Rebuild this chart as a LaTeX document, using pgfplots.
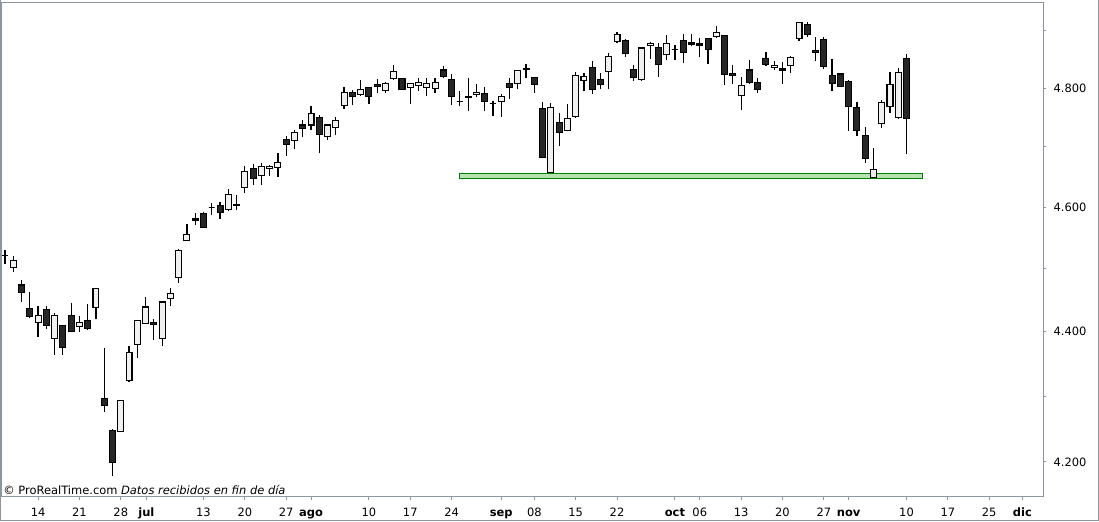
\documentclass[border=0pt]{standalone}
\usepackage{fontspec}
\setmainfont{DejaVu Sans}
\usepackage{pgfplots}
\usepackage{pgfplotstable}
\pgfplotsset{compat=1.18}

\definecolor{framegray}{RGB}{140,150,160}
\definecolor{zonefill}{RGB}{184,226,178}
\definecolor{zoneline}{RGB}{0,130,0}

\pgfplotsset{
  wick/.style={black, line width=0.9pt, mark=none, forget plot},
  candleup/.style={draw=black, fill=white!94!black, line width=0.8pt, mark=none, forget plot},
  candledown/.style={draw=black, fill=black!85, line width=0.8pt, mark=none, forget plot},
}

% daily candles: index, open, high, low, close
\pgfplotstableread{
i o h l c
0 4522 4531 4508 4522
1 4502 4521 4495 4513
2 4474 4482 4447 4462
3 4437 4463 4421 4424
4 4414 4441 4392 4426
5 4435 4441 4405 4410
6 4389 4430 4363 4426
7 4410 4411 4364 4375
8 4426 4446 4399 4400
9 4408 4425 4399 4415
10 4417 4444 4402 4405
11 4438 4469 4420 4469
12 4296 4375 4275 4285
13 4248 4250 4179 4200
14 4246 4294 4245 4293
15 4324 4377 4322 4367
16 4380 4418 4359 4418
17 4413 4455 4412 4439
18 4415 4420 4387 4411
19 4389 4449 4377 4447
20 4452 4469 4440 4461
21 4486 4532 4478 4530
22 4546 4573 4546 4556
23 4582 4590 4571 4579
24 4590 4592 4566 4567
25 4599 4607 4587 4599
26 4603 4609 4581 4592
27 4597 4630 4593 4621
28 4605 4620 4596 4603
29 4633 4668 4624 4659
30 4664 4672 4636 4648
31 4653 4673 4636 4668
32 4664 4670 4652 4668
33 4666 4690 4650 4674
34 4713 4719 4685 4704
35 4711 4729 4697 4724
36 4737 4746 4717 4731
37 4737 4769 4729 4756
38 4750 4754 4690 4721
39 4718 4737 4712 4737
40 4733 4751 4720 4745
41 4770 4801 4765 4793
42 4793 4797 4771 4785
43 4789 4814 4787 4798
44 4801 4802 4773 4785
45 4806 4815 4792 4802
46 4795 4811 4792 4808
47 4816 4840 4814 4829
48 4817 4818 4797 4798
49 4801 4808 4773 4807
50 4804 4817 4795 4810
51 4801 4818 4787 4808
52 4799 4818 4792 4810
53 4831 4838 4818 4820
54 4815 4824 4771 4785
55 4777 4795 4770 4777
56 4786 4817 4760 4783
57 4789 4807 4785 4793
58 4790 4801 4761 4777
59 4774 4778 4752 4774
60 4777 4790 4751 4786
61 4808 4818 4782 4801
62 4807 4831 4799 4830
63 4834 4841 4817 4832
64 4818 4819 4792 4806
65 4765 4776 4682 4683
66 4657 4774 4656 4767
67 4742 4758 4702 4724
68 4728 4772 4727 4748
69 4751 4827 4749 4822
70 4813 4825 4795 4820
71 4836 4846 4789 4798
72 4815 4825 4799 4806
73 4828 4860 4799 4855
74 4881 4898 4878 4893
75 4882 4884 4854 4860
76 4832 4839 4812 4818
77 4814 4870 4812 4869
78 4874 4879 4850 4877
79 4870 4877 4819 4841
80 4858 4892 4849 4877
81 4867 4874 4849 4867
82 4882 4893 4844 4862
83 4876 4893 4872 4879
84 4876 4886 4853 4873
85 4886 4887 4842 4866
86 4889 4907 4887 4896
87 4891 4892 4805 4823
88 4825 4839 4807 4822
89 4787 4819 4762 4805
90 4831 4848 4807 4809
91 4810 4817 4792 4797
92 4851 4862 4838 4840
93 4835 4846 4831 4839
94 4834 4845 4807 4831
95 4838 4856 4825 4853
96 4885 4915 4882 4913
97 4910 4915 4888 4892
98 4865 4888 4847 4862
99 4884 4888 4833 4837
100 4822 4850 4795 4807
101 4824 4825 4802 4802
102 4811 4813 4727 4769
103 4767 4776 4719 4727
104 4720 4733 4674 4681
105 4649 4699 4648 4663
106 4740 4780 4732 4776
107 4769 4827 4758 4806
108 4749 4834 4748 4827
109 4851 4858 4688 4748
}\candles

\begin{document}
\begin{tikzpicture}
\begin{axis}[
  scale only axis, width=780.75pt, height=371pt,
  at={(0,0)}, anchor=south west,
  xmin=-0.36, xmax=125.5,
  % logarithmic price scale
  y coord trafo/.code={\pgfmathparse{ln(#1)}},
  y coord inv trafo/.code={\pgfmathparse{exp(#1)}},
  ymin=4148.3, ymax=4949.7,
  axis line style={framegray, line width=0.75pt},
  tick align=outside,
  major tick length=2.25pt, minor tick length=2.25pt,
  tick style={framegray, line width=0.75pt},
  xtick pos=left, xticklabel pos=left,
  ytick pos=right, yticklabel pos=right,
  xtick={4,9,14,17.1,24,29,34,37,44,49,54,60,64,69,74,81,84,89,94,99,102,109,114,119,123},
  xticklabels={14,21,28,\textbf{jul},13,20,27,\textbf{ago},10,17,24,\textbf{sep},08,15,22,\textbf{oct},06,13,20,27,\textbf{nov},10,17,25,\textbf{dic}},
  ytick={4200,4400,4600,4800},
  yticklabels={4.200,4.400,4.600,4.800},
  minor ytick={4300,4500,4700,4900},
  ticklabel style={font=\fontsize{8.6}{10}\selectfont, text=black},
  xticklabel style={anchor=base, inner sep=0pt, yshift=-12.5pt},
  yticklabel style={anchor=west, inner sep=0pt, xshift=5.5pt},
]
% support zone
\addplot[draw=zoneline, fill=zonefill, line width=0.75pt, forget plot]
  coordinates {(55,4647) (110.9,4647) (110.9,4656) (55,4656)} --cycle;

\pgfplotsinvokeforeach{0,...,109}{%
  \pgfplotstablegetelem{#1}{o}\of\candles\let\Vo\pgfplotsretval
  \pgfplotstablegetelem{#1}{h}\of\candles\let\Vh\pgfplotsretval
  \pgfplotstablegetelem{#1}{l}\of\candles\let\Vl\pgfplotsretval
  \pgfplotstablegetelem{#1}{c}\of\candles\let\Vc\pgfplotsretval
  \pgfmathsetmacro\Xl{#1-0.36}%
  \pgfmathsetmacro\Xr{#1+0.36}%
  \ifdim\Vc pt<\Vo pt \def\Bstyle{candledown}\else\def\Bstyle{candleup}\fi
  \edef\Cmd{%
    \noexpand\addplot[wick] coordinates {(#1,\Vl) (#1,\Vh)};
    \noexpand\addplot[\Bstyle] coordinates {(\Xl,\Vo) (\Xr,\Vo) (\Xr,\Vc) (\Xl,\Vc)} --cycle;}%
  \Cmd
}

\node[anchor=base west, inner sep=0pt, font=\fontsize{8.6}{10}\selectfont]
  at (rel axis cs:0,0) [xshift=0.75pt, yshift=1.65pt]
  {© ProRealTime.com \textit{Datos recibidos en fin de día}};
\end{axis}
\pgfresetboundingbox
\useasboundingbox (-1.5pt,-18.225pt) rectangle (822.75pt,372.525pt);
\draw[framegray, line width=0.75pt] (-1.125pt,372.525pt) -- (-1.125pt,-17.85pt)
  -- (822.375pt,-17.85pt) -- (822.375pt,372.525pt);
\end{tikzpicture}
\end{document}
